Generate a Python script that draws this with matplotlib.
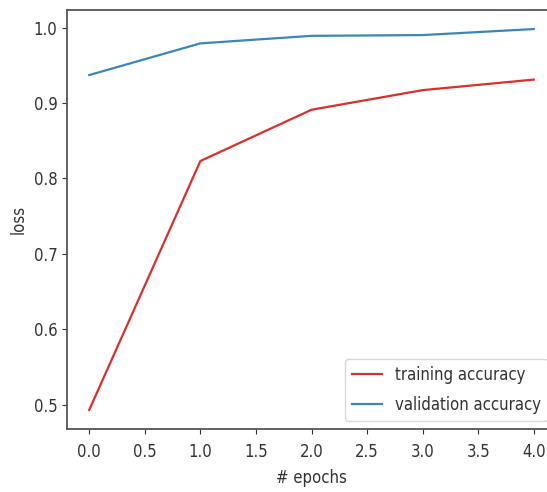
import matplotlib
matplotlib.use("Agg")
import matplotlib.pyplot as plt

epochs = [0, 1, 2, 3, 4]
train_acc = [0.493, 0.823, 0.891, 0.917, 0.931]
val_acc = [0.937, 0.979, 0.989, 0.990, 0.998]

plt.rcParams['font.family'] = ['DejaVu Sans']
plt.rcParams['font.stretch'] = 'condensed'
fig = plt.figure(figsize=(5.47, 4.92), dpi=100)
# the original is cropped on the right, so the axes run past the figure edge
ax = fig.add_axes([67 / 547, 63 / 492, 489 / 547, 419 / 492])

ax.plot(epochs, train_acc, color='#d9302c', linewidth=1.6, label='training accuracy')
ax.plot(epochs, val_acc, color='#3a87b8', linewidth=1.6, label='validation accuracy')

ax.set_xticks([0, 0.5, 1, 1.5, 2, 2.5, 3, 3.5, 4])
ax.set_yticks([0.5, 0.6, 0.7, 0.8, 0.9, 1.0])
ax.tick_params(labelsize=12, colors='#333333')
ax.tick_params(axis='x', pad=6.5)
for s in ax.spines.values():
    s.set_color('#555555')
    s.set_linewidth(1.3)

ax.set_xlabel('# epochs', fontsize=12, color='#333333', labelpad=6)
ax.set_ylabel('loss', fontsize=12, color='#333333')
ax.legend(loc='lower right', fontsize=12, labelcolor='#333333',
          handlelength=1.8, labelspacing=0.75)

fig.savefig('out.png', dpi=100)
